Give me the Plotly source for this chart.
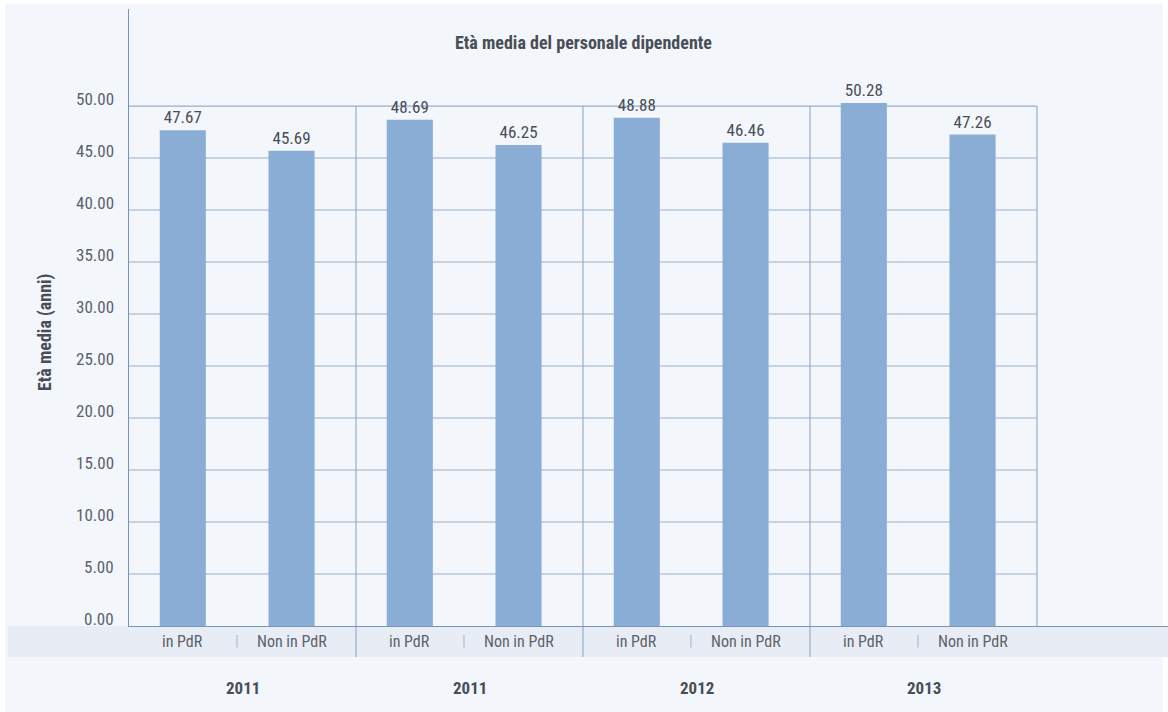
import plotly.graph_objects as go

# --- data ---------------------------------------------------------------
years = ["2011", "2011", "2012", "2013"]
groups = ["in PdR", "Non in PdR"]
in_pdr = [47.67, 48.69, 48.88, 50.28]
non_in_pdr = [45.69, 46.25, 46.46, 47.26]
y_ticks = [0, 5, 10, 15, 20, 25, 30, 35, 40, 45, 50]

title = "Età media del personale dipendente"
y_title = "Età media (anni)"

# --- layout constants ---------------------------------------------------
W, H = 1168, 712
L, T, B = 129, 9, 86          # plot area margins (px)
Y_MAX = 59.33                 # top of the y range
X_MAX = 4.577                 # right edge of the x range (4 year groups + spare)
OFF_A, OFF_B = 0.237, 0.716   # bar centre positions within a group
BAR_W = 0.203

FONT = "Roboto Condensed, Liberation Sans Narrow, Roboto, sans-serif"
BG = "rgb(243,246,251)"
BAND = "rgb(232,237,245)"
BAR = "rgb(138,173,214)"
GRID = "rgb(150,174,204)"
AXIS = "rgb(120,148,182)"
TXT = "rgb(72,78,86)"
TICK_TXT = "rgb(92,98,106)"

plot_w = W - L
plot_h = H - T - B


def px_x(p):
    return (p - L) / plot_w


def px_y(p):
    return (H - B - p) / plot_h


def label(x, y, text, size, color, xref="x", yref="paper", angle=0,
          xanchor="center", yshift=0):
    return dict(x=x, y=y, xref=xref, yref=yref, text=text, showarrow=False,
                xanchor=xanchor, yanchor="middle", textangle=angle, yshift=yshift,
                font=dict(family=FONT, size=size, color=color))


n = len(years)
xa = [i + OFF_A for i in range(n)]
xb = [i + OFF_B for i in range(n)]

fig = go.Figure()
for xs, vals in ((xa, in_pdr), (xb, non_in_pdr)):
    fig.add_trace(go.Bar(
        x=xs, y=vals, width=BAR_W,
        marker=dict(color=BAR, line=dict(width=0)),
        text=[f"{v:.2f}" for v in vals],
        textposition="outside",
        textfont=dict(family=FONT, size=17, color=TXT),
        cliponaxis=False,
        hoverinfo="skip",
    ))

shapes = []
# page background with thin white border
shapes.append(dict(type="rect", xref="paper", yref="paper", layer="below",
                   x0=px_x(5), x1=px_x(1163), y0=px_y(712), y1=px_y(4),
                   fillcolor=BG, line=dict(width=0)))
# category band under the axis
shapes.append(dict(type="rect", xref="paper", yref="paper", layer="below",
                   x0=px_x(8), x1=px_x(1168), y0=px_y(657), y1=px_y(626),
                   fillcolor=BAND, line=dict(width=0)))
# horizontal grid lines (only across the year groups)
for t in y_ticks[1:]:
    shapes.append(dict(type="line", xref="x", yref="y", layer="below",
                       x0=0, x1=n, y0=t, y1=t,
                       line=dict(color=GRID, width=1.2)))
# vertical group separators
top = y_ticks[-1]
for i in range(1, n + 1):
    shapes.append(dict(type="line", xref="x", yref="y", layer="below",
                       x0=i, x1=i, y0=0, y1=top,
                       line=dict(color=GRID, width=1.2)))
    if i < n:
        shapes.append(dict(type="line", xref="x", yref="paper", layer="below",
                           x0=i, x1=i, y0=px_y(657), y1=0,
                           line=dict(color=GRID, width=1.2)))

annotations = []
# y tick labels, sitting slightly above their grid lines
for t in y_ticks:
    annotations.append(label(px_x(116), t, f"{t:.2f}", 17, TICK_TXT,
                             xref="paper", yref="y", xanchor="right", yshift=7))
for i in range(n):
    annotations.append(label(xa[i], px_y(641), groups[0], 16, TICK_TXT))
    annotations.append(label(xb[i], px_y(641), groups[1], 16, TICK_TXT))
    annotations.append(label((xa[i] + xb[i]) / 2, px_y(641), "|", 15, "rgb(165,190,220)"))
    annotations.append(label(i + 0.5, px_y(688), f"<b>{years[i]}</b>", 17, TXT))

annotations.append(label(n / 2, px_y(42), f"<b>{title}</b>", 18, TXT))
annotations.append(label(px_x(45), px_y(333), f"<b>{y_title}</b>", 18, TXT,
                         xref="paper", angle=-90))

fig.update_layout(
    width=W, height=H,
    margin=dict(l=L, r=0, t=T, b=B, pad=0),
    paper_bgcolor="white",
    plot_bgcolor="rgba(0,0,0,0)",
    showlegend=False,
    barmode="overlay",
    shapes=shapes,
    annotations=annotations,
    xaxis=dict(range=[0, X_MAX], showgrid=False, zeroline=False,
               showticklabels=False, ticks="",
               showline=True, linecolor=AXIS, linewidth=1.2),
    yaxis=dict(range=[0, Y_MAX], showgrid=False, zeroline=False,
               tickvals=y_ticks, showticklabels=False, ticks="",
               showline=True, linecolor=AXIS, linewidth=1.2),
)

fig.write_html("out.html")
